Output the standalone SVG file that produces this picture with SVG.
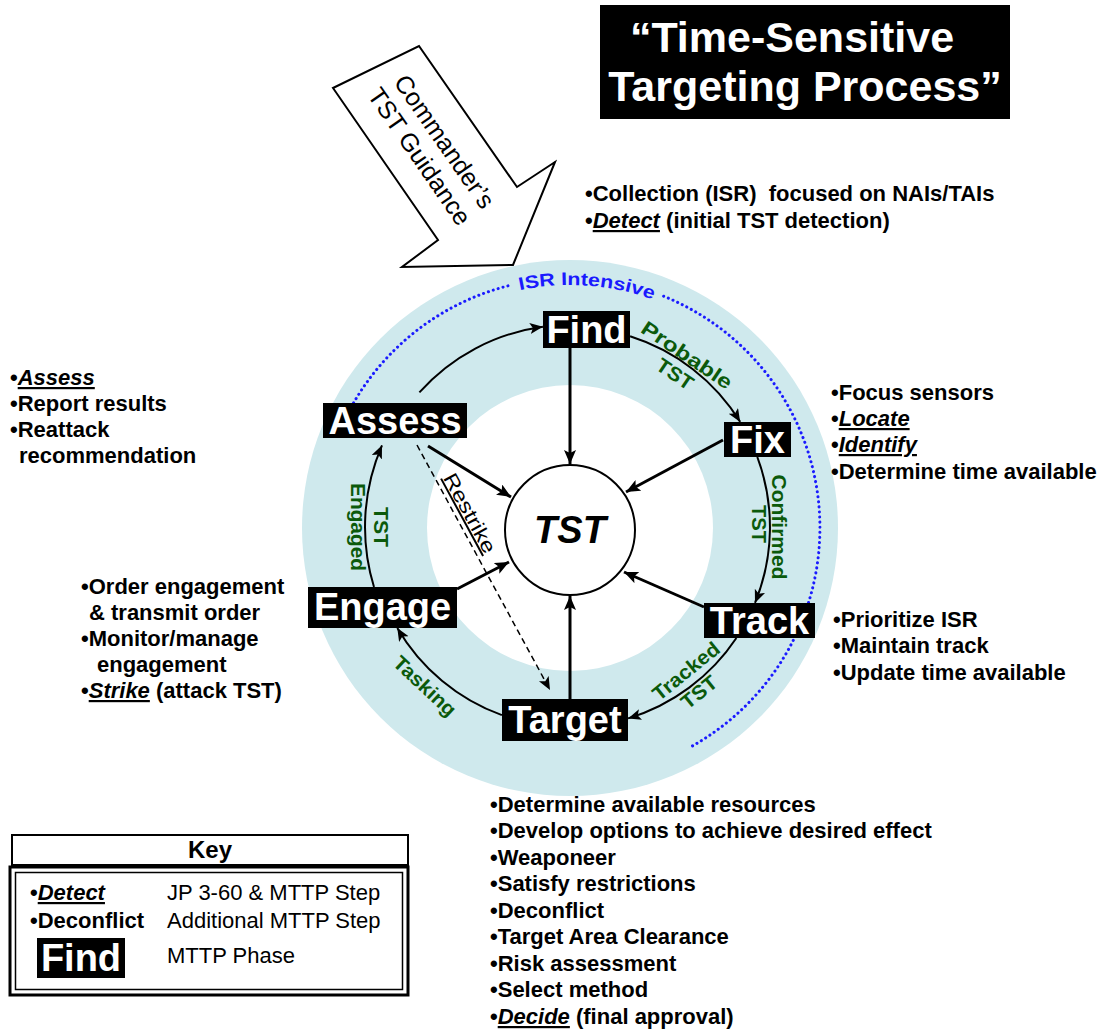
<svg xmlns="http://www.w3.org/2000/svg" width="1098" height="1032" viewBox="0 0 1098 1032">
<style>
.box{fill:#000}
.nl{font-family:"Liberation Sans",Arial,sans-serif;font-weight:bold;font-size:38px;fill:#fff;text-anchor:middle}
.d{font-family:"Liberation Sans",Arial,sans-serif;font-weight:bold;font-size:22px;fill:#000}
.r{font-family:"Liberation Sans",Arial,sans-serif;font-size:22px;fill:#000}
.j{font-style:italic;text-decoration:underline}
.g{font-family:"Liberation Sans",Arial,sans-serif;font-weight:bold;font-size:20px;fill:#0b5a0b;text-anchor:middle}
.arc{fill:none;stroke:#000;stroke-width:2}
.spoke{fill:none;stroke:#000;stroke-width:3}
</style>
<defs>
<marker id="ah" markerUnits="userSpaceOnUse" markerWidth="16" markerHeight="12" refX="14" refY="6" orient="auto"><path d="M0,0 L14,6 L0,12 L3,6 z" fill="#000"/></marker>
<marker id="ahs" markerUnits="userSpaceOnUse" markerWidth="14" markerHeight="12" refX="13" refY="5.5" orient="auto"><path d="M0,0 L13,5.5 L0,11 L3,5.5 z" fill="#000"/></marker>
</defs>
<rect width="1098" height="1032" fill="#fff"/>
<g id="rings">
<circle cx="570" cy="528" r="268" fill="#cfe9ed"/>
<circle cx="570" cy="528" r="143" fill="#fff"/>
<path d="M353.5,403 A250,250 0 0 1 508.2,285.8 M663.6,296.2 A250,250 0 0 1 691.2,746.6" fill="none" stroke="#1a1aff" stroke-width="3" stroke-linecap="round" stroke-dasharray="0.1 5"/>
<path id="isrp" d="M482.9,301.1 A243,243 0 0 1 687.8,315.5" fill="none"/>
<text font-family="'Liberation Sans',Arial,sans-serif" font-weight="bold" font-size="18" fill="#1a1aff"><textPath href="#isrp" startOffset="50%" text-anchor="middle" textLength="135" lengthAdjust="spacingAndGlyphs">ISR Intensive</textPath></text>
</g>
<g id="title">
<rect x="600" y="5" width="410" height="114" fill="#000"/>
<text x="792" y="52" font-family="'Liberation Sans',Arial,sans-serif" font-weight="bold" font-size="43" fill="#fff" text-anchor="middle">“Time-Sensitive</text>
<text x="805" y="101" font-family="'Liberation Sans',Arial,sans-serif" font-weight="bold" font-size="43" fill="#fff" text-anchor="middle">Targeting Process”</text>
</g>
<g id="guidance">
<polygon points="333,88 419,46 517,187 555,162 513,265 402,267 438,240" fill="#fff" stroke="#000" stroke-width="2" stroke-linejoin="miter"/>
<g transform="translate(432,149) rotate(55.3)" font-family="'Liberation Sans',Arial,sans-serif" font-size="25" fill="#000" text-anchor="middle">
<text x="1" y="-6">Commander’s</text>
<text x="-1" y="23">TST Guidance</text>
</g>
</g>
<g id="connectors">
<path class="arc" d="M419.4,392.4 A202,202 0 0 1 542.9,326.8" marker-end="url(#ahs)"/>
<path class="arc" d="M630.1,336.3 A200,200 0 0 1 740.2,421.9" marker-end="url(#ahs)"/>
<path class="arc" d="M757.3,457 A200,200 0 0 1 755,602.9" marker-end="url(#ahs)"/>
<path class="arc" d="M736.4,638 A200,200 0 0 1 628.1,718.4" marker-end="url(#ahs)"/>
<path class="arc" d="M501.9,715.1 A200,200 0 0 1 397.3,627.9" marker-end="url(#ahs)"/>
<path class="arc" d="M374,587 A205,205 0 0 1 382,445.3" marker-end="url(#ahs)"/>
<path class="spoke" d="M570,348 L570,464" marker-end="url(#ah)"/>
<path class="spoke" d="M723,440 L626,492" marker-end="url(#ah)"/>
<path class="spoke" d="M704,607 L624,572" marker-end="url(#ah)"/>
<path class="spoke" d="M570,699 L570,596" marker-end="url(#ah)"/>
<path class="spoke" d="M457,589 L509,562" marker-end="url(#ah)"/>
<path class="spoke" d="M428,446 L511,497" marker-end="url(#ah)"/>
<path d="M417,445 L550,690" fill="none" stroke="#000" stroke-width="1.5" stroke-dasharray="6 4" marker-end="url(#ahs)"/>
<text class="g" transform="translate(687,355) rotate(34)" y="7" textLength="105" lengthAdjust="spacingAndGlyphs">Probable</text>
<text class="g" transform="translate(675,374) rotate(34)" y="7" textLength="40" lengthAdjust="spacingAndGlyphs">TST</text>
<text class="g" transform="translate(779,527) rotate(90)" y="7" textLength="105" lengthAdjust="spacingAndGlyphs">Confirmed</text>
<text class="g" transform="translate(759,524) rotate(90)" y="7" textLength="38" lengthAdjust="spacingAndGlyphs">TST</text>
<text class="g" transform="translate(686,671) rotate(-39)" y="7" textLength="80" lengthAdjust="spacingAndGlyphs">Tracked</text>
<text class="g" transform="translate(699,692) rotate(-39)" y="7" textLength="40" lengthAdjust="spacingAndGlyphs">TST</text>
<text class="g" transform="translate(425,686) rotate(43)" y="7" textLength="78" lengthAdjust="spacingAndGlyphs">Tasking</text>
<text class="g" transform="translate(381,527) rotate(90)" y="7" textLength="40" lengthAdjust="spacingAndGlyphs">TST</text>
<text class="g" transform="translate(358,527) rotate(90)" y="7" textLength="88" lengthAdjust="spacingAndGlyphs">Engaged</text>
<text transform="translate(470,513) rotate(61.5)" y="7" font-family="'Liberation Sans',Arial,sans-serif" font-size="20" fill="#000" text-anchor="middle" text-decoration="underline" textLength="88" lengthAdjust="spacingAndGlyphs">Restrike</text>
</g>
<g id="tst">
<circle cx="570" cy="530" r="65" fill="#fff" stroke="#000" stroke-width="2"/>
<text x="570" y="543" font-family="'Liberation Sans',Arial,sans-serif" font-weight="bold" font-style="italic" font-size="38" fill="#000" text-anchor="middle">TST</text>
</g>
<g id="find"><rect class="box" x="543" y="311" width="87" height="37"/><text class="nl" x="586.5" y="343">Find</text></g>
<g id="fix"><rect class="box" x="724" y="422" width="67" height="35"/><text class="nl" x="757.5" y="453">Fix</text></g>
<g id="track"><rect class="box" x="704" y="603" width="111" height="35"/><text class="nl" x="759.5" y="634">Track</text></g>
<g id="target"><rect class="box" x="502" y="699" width="126" height="42"/><text class="nl" x="565" y="733">Target</text></g>
<g id="engage"><rect class="box" x="308" y="587" width="149" height="41"/><text class="nl" x="382.5" y="620">Engage</text></g>
<g id="assess"><rect class="box" x="323" y="403" width="144" height="35"/><text class="nl" x="395" y="434">Assess</text></g>
<g id="find-notes">
<text class="d" x="585" y="201">•Collection (ISR)&#160; focused on NAIs/TAIs</text>
<text class="d" x="585" y="228">•<tspan class="j">Detect</tspan> (initial TST detection)</text>
</g>
<g id="assess-notes">
<text class="d" x="10" y="385">•<tspan class="j">Assess</tspan></text>
<text class="d" x="10" y="411">•Report results</text>
<text class="d" x="10" y="437">•Reattack</text>
<text class="d" x="19" y="463">recommendation</text>
</g>
<g id="fix-notes">
<text class="d" x="831" y="400">•Focus sensors</text>
<text class="d" x="831" y="426">•<tspan class="j">Locate</tspan></text>
<text class="d" x="831" y="452">•<tspan class="j">Identify</tspan></text>
<text class="d" x="831" y="479">•Determine time available</text>
</g>
<g id="track-notes">
<text class="d" x="833" y="627">•Prioritize ISR</text>
<text class="d" x="833" y="653">•Maintain track</text>
<text class="d" x="833" y="680">•Update time available</text>
</g>
<g id="engage-notes">
<text class="d" x="81" y="594">•Order engagement</text>
<text class="d" x="89" y="620">&amp; transmit order</text>
<text class="d" x="81" y="646">•Monitor/manage</text>
<text class="d" x="97" y="672">engagement</text>
<text class="d" x="81" y="698">•<tspan class="j">Strike</tspan> (attack TST)</text>
</g>
<g id="target-notes">
<text class="d" x="490" y="812">•Determine available resources</text>
<text class="d" x="490" y="838">•Develop options to achieve desired effect</text>
<text class="d" x="490" y="865">•Weaponeer</text>
<text class="d" x="490" y="891">•Satisfy restrictions</text>
<text class="d" x="490" y="918">•Deconflict</text>
<text class="d" x="490" y="944">•Target Area Clearance</text>
<text class="d" x="490" y="971">•Risk assessment</text>
<text class="d" x="490" y="997">•Select method</text>
<text class="d" x="490" y="1024">•<tspan class="j">Decide</tspan> (final approval)</text>
</g>
<g id="key">
<rect x="12" y="835" width="396" height="30" fill="#fff" stroke="#000" stroke-width="2"/>
<text x="210" y="858" font-family="'Liberation Sans',Arial,sans-serif" font-weight="bold" font-size="24" fill="#000" text-anchor="middle">Key</text>
<rect x="10" y="867" width="398" height="128" fill="#fff" stroke="#000" stroke-width="3"/>
<rect x="15.5" y="872.5" width="387" height="117" fill="none" stroke="#000" stroke-width="1.5"/>
<text class="d" x="30" y="900">•<tspan class="j">Detect</tspan></text>
<text class="r" x="167" y="900">JP 3-60 &amp; MTTP Step</text>
<text class="d" x="30" y="928">•Deconflict</text>
<text class="r" x="167" y="928">Additional MTTP Step</text>
<rect class="box" x="37" y="938" width="88" height="40"/>
<text class="nl" x="81" y="971" font-size="36">Find</text>
<text class="r" x="167" y="963">MTTP Phase</text>
</g>
</svg>
